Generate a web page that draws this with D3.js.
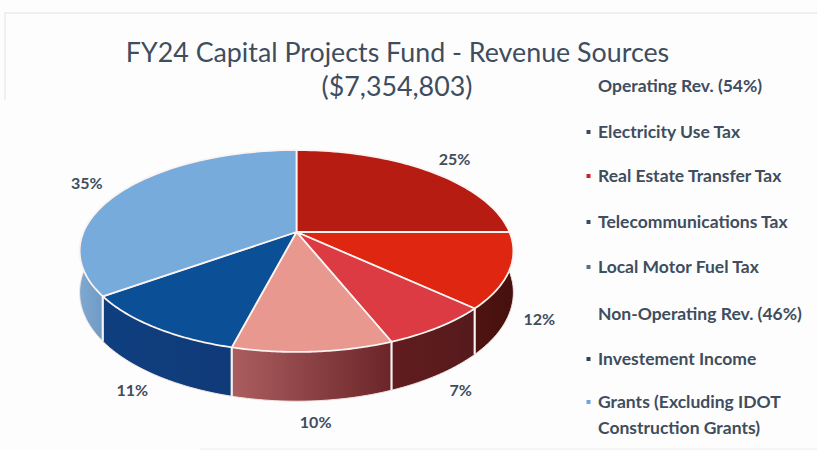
<!DOCTYPE html>
<html><head><meta charset="utf-8">
<script src="https://cdn.jsdelivr.net/npm/d3@7"></script>
<style>html,body{margin:0;padding:0;background:#fdfdfd}svg{display:block}text{font-family:Lato,"Open Sans",sans-serif}</style>
</head><body><svg id="c" width="817" height="450"></svg>
<script>
const categories=["Real Estate Transfer Tax","Telecommunications Tax","Local Motor Fuel Tax","Electricity Use Tax","Investement Income","Grants"];
const shares=[25,12,7,10,11,35];
const topColors=["#b71c12","#de2610","#dc3b44","#e8988f","#0b4f96","#76abdc"];
const wallFrom=["#5a1612","#4f1410","#611c1f","#ab5e60","#0f3f80","#7fa9d0"];
const wallTo=["#5a1612","#45100e","#561a1c","#6b2528","#103a78","#6f9ac4"];
const titleLines=["FY24 Capital Projects Fund - Revenue Sources","($7,354,803)"];
const legendRows=[
 ["Operating Rev. (54%)",null],["Electricity Use Tax","#3c4a5c"],["Real Estate Transfer Tax","#d3201c"],
 ["Telecommunications Tax","#3c4a5c"],["Local Motor Fuel Tax","#5d7080"],["Non-Operating Rev. (46%)",null],
 ["Investement Income","#33415a"],["Grants (Excluding IDOT","#6ea6dc"],["Construction Grants)",undefined]];
const legendY=[86,132,176,222,267,314,359,402,428];

const svg=d3.select("#c"), ink="#3f4d5e";
const cx=296.5, cy=232, a=213, b=97.4, p=0.188, depth=40;
const project=(t,r=1,drop=0)=>{const u=r*Math.sin(t),v=r*Math.cos(t),w=1+p*v;
  return [cx+a*u/w, cy-b*v/w+drop*depth/w];};
const pie=d3.pie().sort(null)(shares);
const line=d3.line();
const steps=(s,e)=>d3.range(0,61).map(i=>s+(e-s)*i/60);

// page edge of the scanned slide
svg.append("path").attr("d","M5 100V13H817").attr("fill","none").attr("stroke","#e9eaeb").attr("stroke-width",1.5);
svg.append("path").attr("d","M200 449H817").attr("fill","none").attr("stroke","#ececec").attr("stroke-width",1);

const defs=svg.append("defs");
pie.forEach((d,i)=>{const g=defs.append("linearGradient").attr("id","w"+i);
  g.append("stop").attr("offset",0).attr("stop-color",wallFrom[i]);
  g.append("stop").attr("offset",1).attr("stop-color",wallTo[i]);});

// walls: only the front half of the disc shows a side
const frontS=Math.PI/2, frontE=Math.PI*1.5;
pie.forEach((d,i)=>{
  const s=Math.max(d.startAngle,frontS), e=Math.min(d.endAngle,frontE);
  if(e<=s) return;
  const ts=steps(s,e);
  const pts=ts.map(t=>project(t)).concat(ts.slice().reverse().map(t=>project(t,1,1)));
  svg.append("path").attr("d",line(pts)+"Z").attr("fill",`url(#w${i})`).attr("stroke","none");
  svg.append("path").attr("d",line(ts.map(t=>project(t,1,1)))).attr("fill","none").attr("stroke","#f6e6e2").attr("stroke-width",1);
});
// white edges between wall segments
pie.forEach(d=>{const t=d.endAngle;
  if(t>frontS+0.1&&t<frontE-0.02) svg.append("path").attr("d",line([project(t),project(t,1,1)]))
    .attr("stroke","#f7f3f1").attr("stroke-width",2.2).attr("fill","none");});

// top face
pie.forEach((d,i)=>{
  const pts=[[cx,cy]].concat(steps(d.startAngle,d.endAngle).map(t=>project(t)));
  svg.append("path").attr("d",line(pts)+"Z").attr("fill",topColors[i])
    .attr("stroke","#fbf3f0").attr("stroke-width",1.8).attr("stroke-linejoin","round");
});

// data labels
pie.forEach((d,i)=>{
  const m=(d.startAngle+d.endAngle)/2, front=Math.cos(m)<0?1:0;
  const q=project(m,front?1.13:1.22,front);
  svg.append("text").attr("x",q[0]).attr("y",q[1]+5.5).attr("text-anchor","middle")
    .attr("font-size",16).attr("font-weight",700).attr("fill",ink).text(shares[i]+"%");
});

// title
svg.append("text").attr("x",397.5).attr("y",62).attr("text-anchor","middle").attr("font-size",26.8).attr("fill",ink).text(titleLines[0]);
svg.append("text").attr("x",397).attr("y",96).attr("text-anchor","middle").attr("font-size",26.8).attr("fill",ink).text(titleLines[1]);

// legend
legendRows.forEach((r,i)=>{
  svg.append("text").attr("x",598).attr("y",legendY[i]+6).attr("font-size",17.5).attr("font-weight",700).attr("fill",ink).text(r[0]);
  if(r[1]) svg.append("rect").attr("x",586.5).attr("y",legendY[i]-2).attr("width",4).attr("height",4).attr("fill",r[1]);
});
</script></body></html>
